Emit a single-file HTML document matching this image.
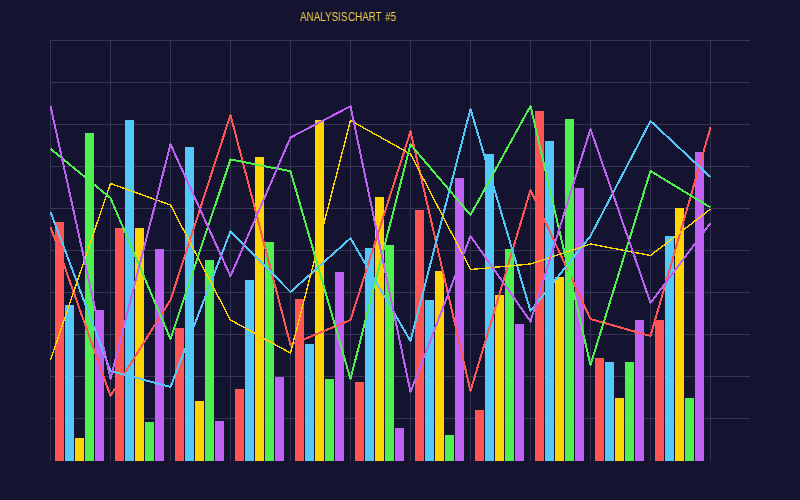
<!DOCTYPE html>
<html><head><meta charset="utf-8"><style>
html,body{margin:0;padding:0;}
body{width:800px;height:500px;background:#141430;overflow:hidden;position:relative;}
svg{position:absolute;left:0;top:0;}
.t{position:absolute;top:9.5px;font-family:"Liberation Sans",sans-serif;font-size:12px;line-height:14px;color:#f0cf4a;white-space:pre;will-change:transform;transform:scaleX(0.82);transform-origin:0 0;}
</style></head><body>
<svg width="800" height="500" viewBox="0 0 800 500">
<g stroke="#363554" stroke-width="1"><line x1="50" y1="40.5" x2="750" y2="40.5"/><line x1="50" y1="82.5" x2="750" y2="82.5"/><line x1="50" y1="124.5" x2="750" y2="124.5"/><line x1="50" y1="166.5" x2="750" y2="166.5"/><line x1="50" y1="208.5" x2="750" y2="208.5"/><line x1="50" y1="250.5" x2="750" y2="250.5"/><line x1="50" y1="292.5" x2="750" y2="292.5"/><line x1="50" y1="334.5" x2="750" y2="334.5"/><line x1="50" y1="376.5" x2="750" y2="376.5"/><line x1="50" y1="418.5" x2="750" y2="418.5"/><line x1="50.5" y1="40" x2="50.5" y2="461"/><line x1="110.5" y1="40" x2="110.5" y2="461"/><line x1="170.5" y1="40" x2="170.5" y2="461"/><line x1="230.5" y1="40" x2="230.5" y2="461"/><line x1="290.5" y1="40" x2="290.5" y2="461"/><line x1="350.5" y1="40" x2="350.5" y2="461"/><line x1="410.5" y1="40" x2="410.5" y2="461"/><line x1="470.5" y1="40" x2="470.5" y2="461"/><line x1="530.5" y1="40" x2="530.5" y2="461"/><line x1="590.5" y1="40" x2="590.5" y2="461"/><line x1="650.5" y1="40" x2="650.5" y2="461"/><line x1="710.5" y1="40" x2="710.5" y2="461"/></g>
<g shape-rendering="crispEdges"><rect x="55" y="222" width="9" height="239" fill="#ff5555"/><rect x="65" y="305" width="9" height="156" fill="#55c8fa"/><rect x="75" y="438" width="9" height="23" fill="#ffd500"/><rect x="85" y="133" width="9" height="328" fill="#50f050"/><rect x="95" y="310" width="9" height="151" fill="#c061f5"/><rect x="115" y="228" width="9" height="233" fill="#ff5555"/><rect x="125" y="120" width="9" height="341" fill="#55c8fa"/><rect x="135" y="228" width="9" height="233" fill="#ffd500"/><rect x="145" y="422" width="9" height="39" fill="#50f050"/><rect x="155" y="248.75" width="9" height="212.25" fill="#c061f5"/><rect x="175" y="328" width="9" height="133" fill="#ff5555"/><rect x="185" y="147" width="9" height="314" fill="#55c8fa"/><rect x="195" y="400.75" width="9" height="60.25" fill="#ffd500"/><rect x="205" y="260" width="9" height="201" fill="#50f050"/><rect x="215" y="420.75" width="9" height="40.25" fill="#c061f5"/><rect x="235" y="388.75" width="9" height="72.25" fill="#ff5555"/><rect x="245" y="280" width="9" height="181" fill="#55c8fa"/><rect x="255" y="156.75" width="9" height="304.25" fill="#ffd500"/><rect x="265" y="242" width="9" height="219" fill="#50f050"/><rect x="275" y="377" width="9" height="84" fill="#c061f5"/><rect x="295" y="298.75" width="9" height="162.25" fill="#ff5555"/><rect x="305" y="343.75" width="9" height="117.25" fill="#55c8fa"/><rect x="315" y="120" width="9" height="341" fill="#ffd500"/><rect x="325" y="378.75" width="9" height="82.25" fill="#50f050"/><rect x="335" y="272" width="9" height="189" fill="#c061f5"/><rect x="355" y="382" width="9" height="79" fill="#ff5555"/><rect x="365" y="248" width="9" height="213" fill="#55c8fa"/><rect x="375" y="197" width="9" height="264" fill="#ffd500"/><rect x="385" y="245" width="9" height="216" fill="#50f050"/><rect x="395" y="428" width="9" height="33" fill="#c061f5"/><rect x="415" y="210" width="9" height="251" fill="#ff5555"/><rect x="425" y="300" width="9" height="161" fill="#55c8fa"/><rect x="435" y="271.25" width="9" height="189.75" fill="#ffd500"/><rect x="445" y="435" width="9" height="26" fill="#50f050"/><rect x="455" y="178" width="9" height="283" fill="#c061f5"/><rect x="475" y="410" width="9" height="51" fill="#ff5555"/><rect x="485" y="154.25" width="9" height="306.75" fill="#55c8fa"/><rect x="495" y="295" width="9" height="166" fill="#ffd500"/><rect x="505" y="249.25" width="9" height="211.75" fill="#50f050"/><rect x="515" y="323.75" width="9" height="137.25" fill="#c061f5"/><rect x="535" y="111.25" width="9" height="349.75" fill="#ff5555"/><rect x="545" y="141.25" width="9" height="319.75" fill="#55c8fa"/><rect x="555" y="277" width="9" height="184" fill="#ffd500"/><rect x="565" y="119.25" width="9" height="341.75" fill="#50f050"/><rect x="575" y="188" width="9" height="273" fill="#c061f5"/><rect x="595" y="358" width="9" height="103" fill="#ff5555"/><rect x="605" y="362" width="9" height="99" fill="#55c8fa"/><rect x="615" y="398" width="9" height="63" fill="#ffd500"/><rect x="625" y="362" width="9" height="99" fill="#50f050"/><rect x="635" y="320" width="9" height="141" fill="#c061f5"/><rect x="655" y="320" width="9" height="141" fill="#ff5555"/><rect x="665" y="236.25" width="9" height="224.75" fill="#55c8fa"/><rect x="675" y="208" width="9" height="253" fill="#ffd500"/><rect x="685" y="398" width="9" height="63" fill="#50f050"/><rect x="695" y="152" width="9" height="309" fill="#c061f5"/></g>
<g shape-rendering="crispEdges"><polyline points="50.5,227 110.5,396 170.5,300 230.5,115 290.5,345 350.5,320 410.5,131.5 470.5,391 530.5,190 590.5,319 650.5,336 710.5,127.5" fill="none" stroke="#ff5555" stroke-width="2" stroke-linejoin="round"/><polyline points="50.5,211.75 110.5,371 170.5,387 230.5,231.25 290.5,292 350.5,238.25 410.5,341 470.5,109 530.5,311 590.5,236 650.5,121 710.5,177" fill="none" stroke="#55c8fa" stroke-width="2" stroke-linejoin="round"/><polyline points="50.5,360 110.5,183.5 170.5,205 230.5,320 290.5,353 350.5,120.5 410.5,154 470.5,269.5 530.5,264 590.5,244 650.5,255.5 710.5,209" fill="none" stroke="#ffd500" stroke-width="1.4" stroke-linejoin="round"/><polyline points="50.5,148.75 110.5,198 170.5,339 230.5,159.5 290.5,171.25 350.5,379 410.5,144.5 470.5,215 530.5,106 590.5,365 650.5,171 710.5,207.5" fill="none" stroke="#50f050" stroke-width="2" stroke-linejoin="round"/><polyline points="50.5,106 110.5,378.75 170.5,144.25 230.5,276.25 290.5,137.5 350.5,106.25 410.5,392 470.5,236 530.5,321.5 590.5,129 650.5,303 710.5,223" fill="none" stroke="#c061f5" stroke-width="2" stroke-linejoin="round"/></g>
</svg>
<div class="t" style="left:300px">ANALYSIS</div><div class="t" style="left:348.3px">CHART</div><div class="t" style="left:385px">#5</div>
</body></html>
